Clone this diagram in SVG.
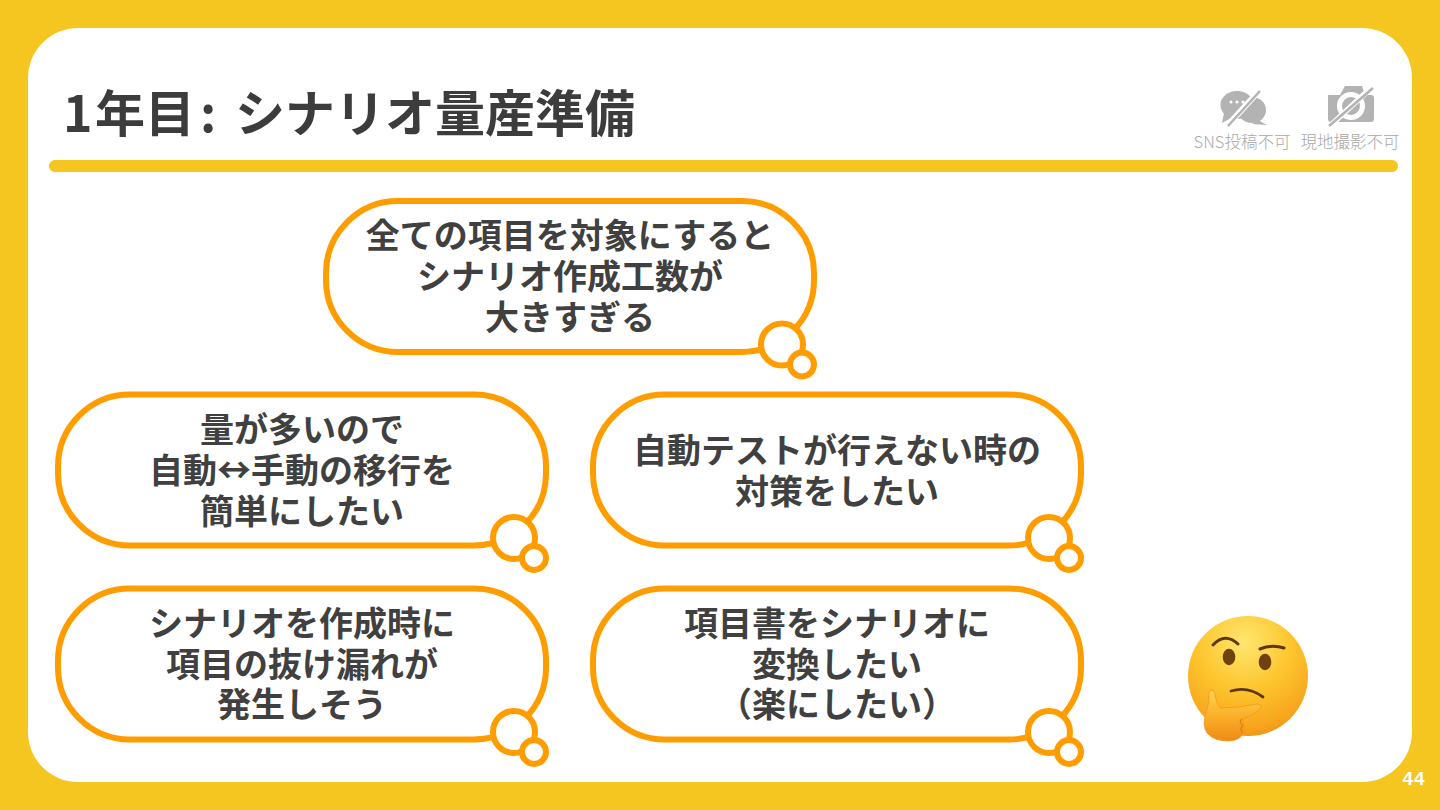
<svg xmlns="http://www.w3.org/2000/svg" width="1440" height="810" viewBox="0 0 1440 810">
<style>
.b{font-family:"Noto Sans CJK JP","Noto Sans",sans-serif;font-weight:700;font-size:34px;fill:#404040;text-anchor:middle}
.o{fill:#fff;stroke:#ff9d00;stroke-width:6}
.c{font-family:"Noto Sans CJK JP","Noto Sans",sans-serif;font-weight:300;font-size:16.500px;fill:#a8a8a8;text-anchor:middle}
.ic{fill:#b3b3b3}
</style>
<defs>
<g id="bubble">
<rect class="o" x="0" y="0" width="488" height="151" rx="72" ry="72"/>
<circle class="o" cx="456" cy="143.500" r="21"/>
<circle class="o" cx="476" cy="163.500" r="12"/>
</g>
<radialGradient id="face" cx="0.47" cy="0.22" r="0.88">
<stop offset="0" stop-color="#ffe670"/><stop offset="0.45" stop-color="#fdc52d"/><stop offset="0.8" stop-color="#f8a51e"/><stop offset="1" stop-color="#ec850e"/>
</radialGradient>
<linearGradient id="hand" x1="0" y1="0" x2="0" y2="1">
<stop offset="0" stop-color="#ffd24e"/><stop offset="0.5" stop-color="#fbb02a"/><stop offset="1" stop-color="#ef8a14"/>
</linearGradient>
</defs>
<rect width="1440" height="810" fill="#f4c61f"/>
<rect x="28" y="28" width="1384" height="754" rx="50" fill="#fff"/>
<text id="title" x="63 95 145 200 235 285 335 385 435 485 535 585" y="132" font-family="Noto Sans CJK JP,Noto Sans,sans-serif" font-weight="700" font-size="50" fill="#3c3c3c">1年目:シナリオ量産準備</text>
<rect x="49" y="160" width="1349" height="12" rx="6" fill="#f4c61f"/>

<g id="icon-sns">
<ellipse class="ic" cx="1237" cy="105" rx="16.500" ry="14"/>
<path class="ic" d="M1224 113 L1222 123 L1233 117Z"/>
<ellipse class="ic" cx="1252" cy="110" rx="14" ry="13"/>
<path class="ic" d="M1258 120 L1267 125 L1252 124Z"/>
<g fill="#fff"><circle cx="1231" cy="102" r="1.500"/><circle cx="1237" cy="102" r="1.500"/><circle cx="1243" cy="102" r="1.500"/></g>
<path d="M1258 92 L1228 125" stroke="#fff" stroke-width="6"/>
<path d="M1260 91 L1228 126" stroke="#b3b3b3" stroke-width="2.500"/>
<text class="c" x="1242" y="148">SNS投稿不可</text>
</g>
<g id="icon-camera">
<path class="ic" d="M1328 95 H1340 L1345 86 H1362 L1365 95 H1371 Q1374 95 1374 98 V119 Q1374 122 1371 122 H1331 Q1328 122 1328 119Z"/>
<circle cx="1351" cy="106" r="11.500" fill="none" stroke="#fff" stroke-width="5"/>
<path d="M1373 86 L1331 125" stroke="#fff" stroke-width="5.500"/>
<path d="M1373 88 L1329 126" stroke="#b3b3b3" stroke-width="2.500"/>
<text class="c" x="1350" y="148">現地撮影不可</text>
</g>

<g id="node1" transform="translate(326 201)">
<use href="#bubble"/>
<text class="b" x="244" y="47">全ての項目を対象にすると</text>
<text class="b" x="244" y="88">シナリオ作成工数が</text>
<text class="b" x="244" y="129">大きすぎる</text>
</g>
<g id="node2" transform="translate(58 394.500)">
<use href="#bubble"/>
<text class="b" x="244" y="47">量が多いので</text>
<text class="b" x="244" y="88">自動↔手動の移行を</text>
<text class="b" x="244" y="129">簡単にしたい</text>
</g>
<g id="node3" transform="translate(593 394.500)">
<use href="#bubble"/>
<text class="b" x="244" y="68">自動テストが行えない時の</text>
<text class="b" x="244" y="109">対策をしたい</text>
</g>
<g id="node4" transform="translate(58 588.500)">
<use href="#bubble"/>
<text class="b" x="244" y="47">シナリオを作成時に</text>
<text class="b" x="244" y="88">項目の抜け漏れが</text>
<text class="b" x="244" y="128">発生しそう</text>
</g>
<g id="node5" transform="translate(593 588.500)">
<use href="#bubble"/>
<text class="b" x="244" y="47">項目書をシナリオに</text>
<text class="b" x="244" y="88">変換したい</text>
<text class="b" x="244" y="128">（楽にしたい）</text>
</g>

<g id="emoji">
<circle cx="1248" cy="676" r="60" fill="url(#face)"/>
<path d="M1213 645 Q1225 632 1238 644" fill="none" stroke="#5e380c" stroke-width="3" stroke-linecap="round"/>
<path d="M1260 649 Q1272 644 1284 648" fill="none" stroke="#5e380c" stroke-width="3" stroke-linecap="round"/>
<ellipse cx="1229" cy="657" rx="6.300" ry="8.300" fill="#6f410e"/>
<ellipse cx="1265" cy="662" rx="6.300" ry="8.300" fill="#6f410e"/>
<path d="M1231 691 Q1248 686 1263 697" fill="none" stroke="#5e380c" stroke-width="2.800" stroke-linecap="round"/>
<path d="M1209 692 Q1213 688 1215 694 Q1216 704 1221 708 Q1240 708 1256 704 Q1262 704 1261 708 Q1256 714 1242 719 Q1246 728 1243 733 Q1240 741 1228 741 Q1214 741 1207 733 Q1202 725 1206 713 Q1210 703 1209 692Z" fill="url(#hand)" stroke="#ee9a20" stroke-width="0.800"/>
<path d="M1242 719 Q1238 722 1243 725 M1243 725 Q1239 729 1243 733" fill="none" stroke="#d98210" stroke-width="1.200"/>
</g>
<text id="page" x="1414" y="785" font-family="Liberation Sans,sans-serif" font-weight="700" font-size="19" letter-spacing="1" fill="#fff" text-anchor="middle">44</text>
</svg>
